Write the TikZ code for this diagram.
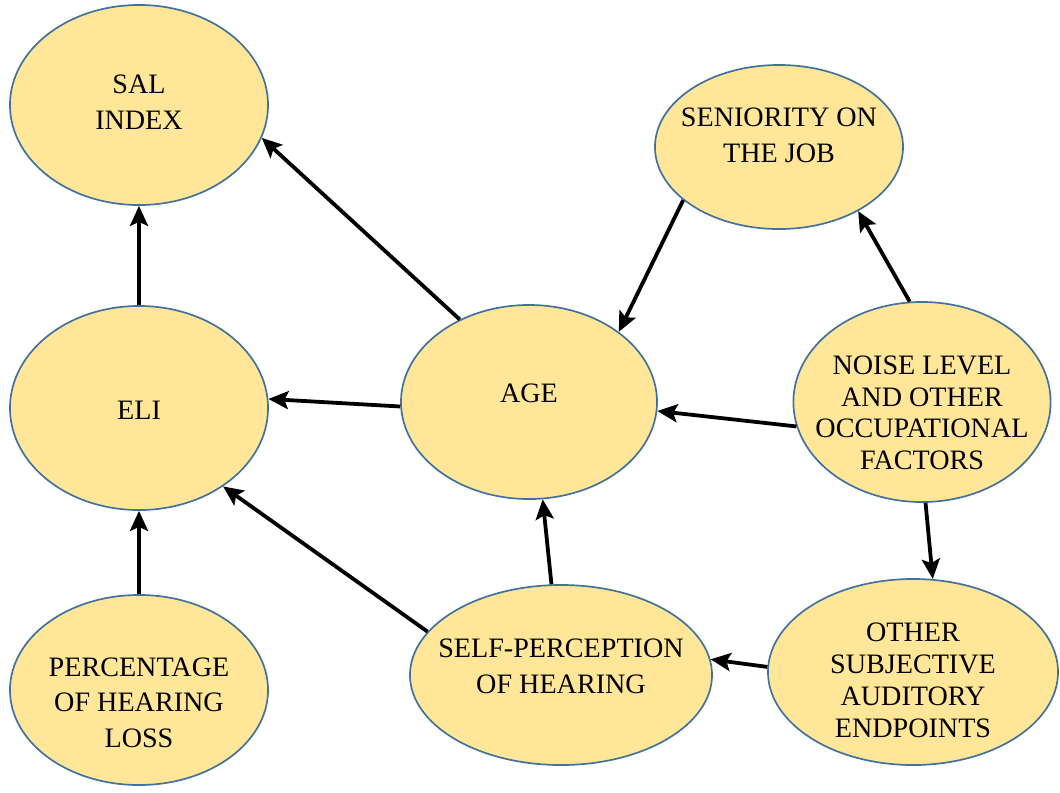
\documentclass[tikz,border=0pt]{standalone}
\usepackage{fontspec}
\setmainfont{Liberation Serif}
\usetikzlibrary{arrows.meta,shapes.geometric}
\definecolor{ovalfill}{HTML}{FFE699}
\definecolor{ovalline}{HTML}{41719C}

\begin{document}
\begin{tikzpicture}[x=0.025cm,y=-0.025cm,>={Stealth[length=0.5cm,width=0.45cm,inset=0.1cm]},
        main node/.style={ellipse,draw=ovalline,fill=ovalfill,line width=1.2pt,inner sep=0pt},
        tight/.style={font=\fontsize{20}{22.7}\selectfont},
        every label/.style={align=center,font=\fontsize{20}{25.5}\selectfont}]
        \useasboundingbox (0,0) rectangle (1060,792);
        \node[main node, minimum width=6.45cm, minimum height=5cm,
              label={[yshift=0.07cm]center:SAL\\INDEX}] (sal) at (139,105) {};
        \node[main node, minimum width=6.2cm, minimum height=4.1cm,
              label={[yshift=0.3cm]center:SENIORITY ON\\THE JOB}] (sen) at (779,147) {};
        \node[main node, minimum width=6.45cm, minimum height=5.1cm,
              label={[yshift=-0.05cm]center:ELI}] (eli) at (139,408) {};
        \node[main node, minimum width=6.4cm, minimum height=4.85cm,
              label={[yshift=0.22cm]center:AGE}] (age) at (529,402) {};
        \node[main node, minimum width=6.43cm, minimum height=5cm,
              label={[tight,yshift=-0.27cm]center:NOISE LEVEL\\AND OTHER\\OCCUPATIONAL\\FACTORS}] (noise) at (922,402) {};
        \node[main node, minimum width=7.25cm, minimum height=4.65cm,
              label={[tight,yshift=-0.2cm]center:OTHER\\SUBJECTIVE\\AUDITORY\\ENDPOINTS}] (other) at (913,672) {};
        \node[main node, minimum width=7.55cm, minimum height=4.5cm,
              label={[yshift=0.22cm]center:SELF-PERCEPTION\\OF HEARING}] (self) at (561,675) {};
        \node[main node, minimum width=6.45cm, minimum height=4.75cm,
              label={[yshift=-0.32cm]center:PERCENTAGE\\OF HEARING\\LOSS}] (perc) at (139,690) {};
        \path[->,line width=2.7pt]
        (eli) edge (sal)
        (age.130) edge (sal.-15)
        (age.182) edge (eli.4)
        (sen.209) edge (age.38)
        (noise.97) edge (sen.-39)
        (noise.191) edge (age.-4)
        (noise.-88) edge (other.78)
        (other.178) edge (self.6)
        (self.96) edge (age.-82)
        (self.162) edge (eli.-43)
        (perc) edge (eli)
        ;
\end{tikzpicture}
\end{document}
